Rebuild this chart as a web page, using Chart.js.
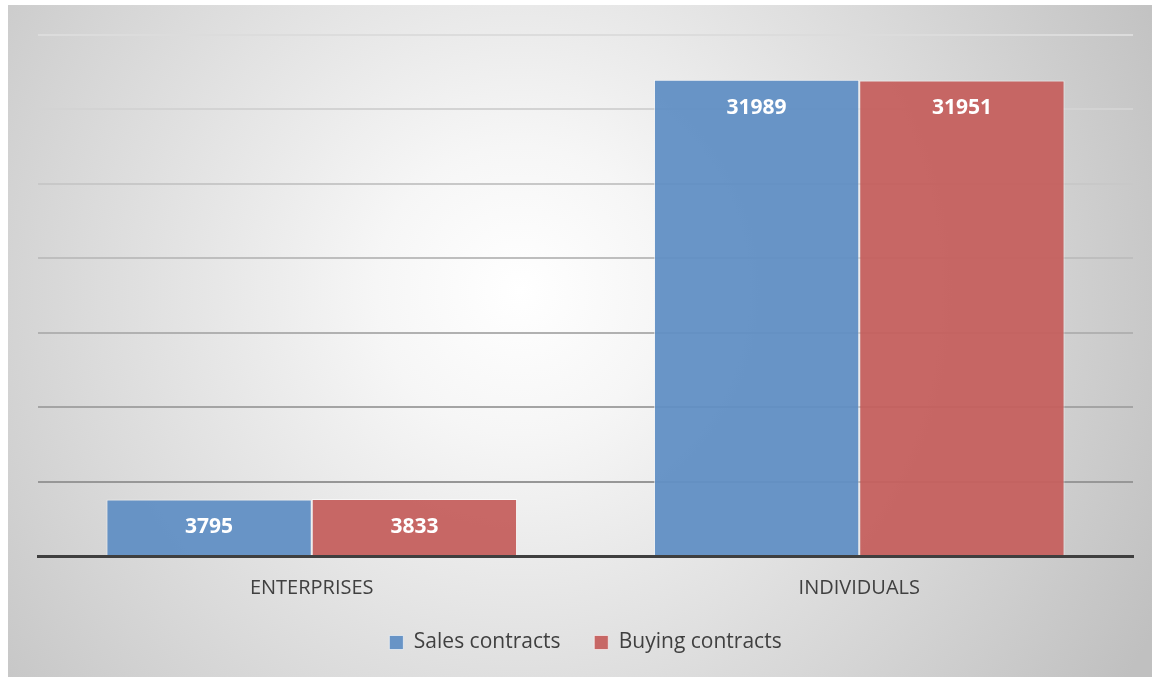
<!DOCTYPE html>
<html>
<head>
<meta charset="utf-8">
<script src="https://cdn.jsdelivr.net/npm/chart.js@4/dist/chart.umd.min.js"></script>
<style>
html,body{margin:0;padding:0;background:#fff;}
#wrap{width:1152px;height:677px;position:relative;}
</style>
</head>
<body>
<div id="wrap"><canvas id="c" width="1152" height="677"></canvas></div>
<script>
const categories = ["ENTERPRISES", "INDIVIDUALS"];
const salesContracts = [3795, 31989];
const buyingContracts = [3833, 31951];
const seriesNames = ["Sales contracts", "Buying contracts"];
const yTicks = [0, 5000, 10000, 15000, 20000, 25000, 30000, 35000];

const bgPlugin = {
  id: 'bg',
  beforeDraw(chart) {
    const ctx = chart.ctx;
    ctx.save();
    ctx.fillStyle = '#ffffff';
    ctx.fillRect(0, 0, chart.width, chart.height);
    const g = ctx.createRadialGradient(520, 290, 0, 520, 290, 720);
    g.addColorStop(0, '#ffffff');
    g.addColorStop(0.2, '#f6f6f6');
    g.addColorStop(1, '#c0c0c0');
    ctx.fillStyle = g;
    ctx.fillRect(8, 5, chart.width - 8, chart.height - 5);
    ctx.restore();
  }
};

const labelPlugin = {
  id: 'vals',
  afterDatasetsDraw(chart) {
    const ctx = chart.ctx;
    ctx.save();
    ctx.font = 'bold 21px "Open Sans", sans-serif';
    ctx.fillStyle = '#ffffff';
    ctx.textAlign = 'center';
    ctx.textBaseline = 'middle';
    chart.data.datasets.forEach((ds, di) => {
      const meta = chart.getDatasetMeta(di);
      meta.data.forEach((bar, i) => {
        ctx.fillText(String(ds.data[i]), bar.x, bar.y + 28);
      });
    });
    ctx.restore();
  }
};

const gridColors = ['rgba(0,0,0,0)', '#979797', '#a4a4a4', '#b1b1b1', '#bebebe', '#c8c8c8', '#d3d3d3', '#dcdcdc'];

new Chart(document.getElementById('c'), {
  type: 'bar',
  data: {
    labels: categories,
    datasets: [
      {
        label: seriesNames[0],
        data: salesContracts,
        backgroundColor: 'rgba(97,143,196,0.95)',
        borderColor: 'rgba(255,255,255,0.6)',
        borderWidth: 1,
        categoryPercentage: 0.75,
        barPercentage: 1.0
      },
      {
        label: seriesNames[1],
        data: buyingContracts,
        backgroundColor: 'rgba(197,96,94,0.95)',
        borderColor: 'rgba(255,255,255,0.6)',
        borderWidth: 1,
        categoryPercentage: 0.75,
        barPercentage: 1.0
      }
    ]
  },
  options: {
    responsive: false,
    animation: false,
    devicePixelRatio: 1,
    layout: { padding: { left: 38, right: 19, top: 35, bottom: 14 } },
    plugins: {
      tooltip: { enabled: false },
      legend: {
        position: 'bottom',
        labels: {
          font: { family: '"Open Sans", sans-serif', size: 21 },
          color: '#404040',
          boxWidth: 14,
          boxHeight: 14,
          padding: 12,
          generateLabels(chart) {
            const items = Chart.defaults.plugins.legend.labels.generateLabels(chart);
            items.forEach((it, i) => { if (i < items.length - 1) it.text = it.text + '    '; });
            return items;
          }
        }
      }
    },
    scales: {
      x: {
        grid: { display: false, drawTicks: false },
        border: { display: true, color: '#3f3f3f', width: 3 },
        ticks: {
          font: { family: '"Open Sans", sans-serif', size: 20 },
          color: '#404040',
          padding: 20
        }
      },
      y: {
        min: 0,
        max: 35000,
        afterBuildTicks(scale) { scale.ticks = yTicks.map(v => ({ value: v })); },
        ticks: { display: false },
        border: { display: false },
        grid: {
          drawTicks: false,
          lineWidth: 2,
          color: (ctx) => gridColors[ctx.index] || '#ccc'
        }
      }
    }
  },
  plugins: [bgPlugin, labelPlugin]
});
</script>
</body>
</html>
